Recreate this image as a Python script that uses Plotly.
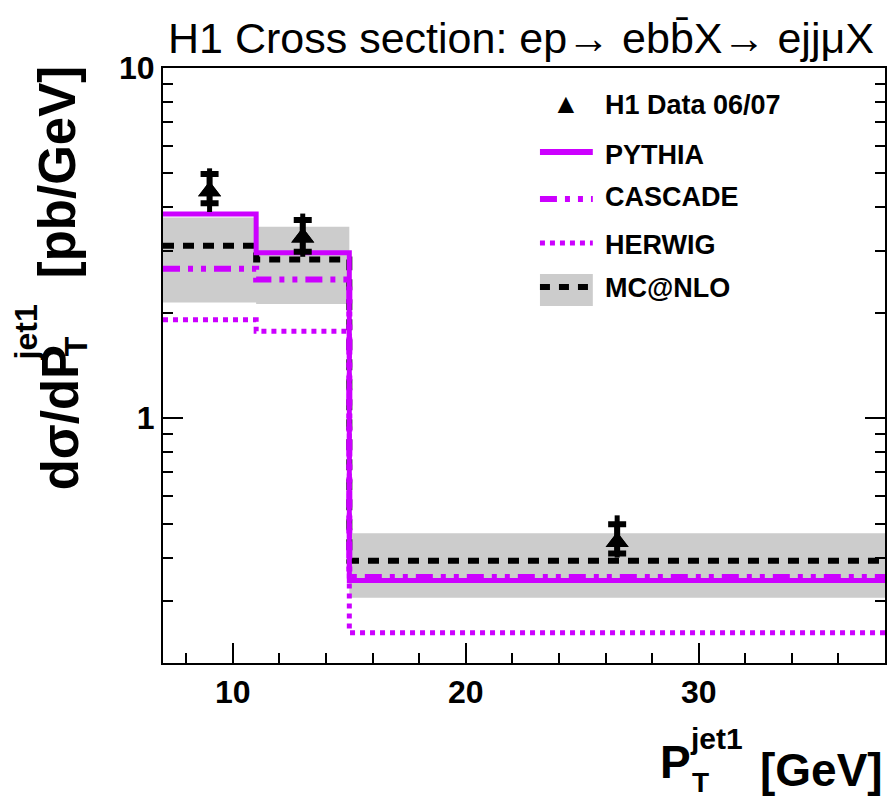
import plotly.graph_objects as go

# ---------------- data ----------------
bin_edges = [7, 11, 15, 38]
pythia = [3.83, 2.97, 0.344]
cascade = [2.67, 2.49, 0.352]
herwig = [1.91, 1.77, 0.244]
mcnlo = [3.11, 2.84, 0.392]
mcnlo_up = [3.74, 3.52, 0.469]
mcnlo_dn = [2.14, 2.12, 0.307]

data_x = [9, 13, 26.5]
data_y = [4.45, 3.28, 0.443]
data_tot_up = [5.17, 3.84, 0.528]
data_tot_dn = [3.88, 2.89, 0.400]
data_stat_up = [4.98, 3.68, 0.498]
data_stat_dn = [4.11, 2.99, 0.411]

x_ticks = [10, 20, 30]
x_minor = [8, 12, 14, 16, 18, 22, 24, 26, 28, 32, 34, 36, 38]
y_ticks = [1, 10]
y_tick_labels = ["1", "10"]
y_minor = [0.2, 0.3, 0.4, 0.5, 0.6, 0.7, 0.8, 0.9, 2, 3, 4, 5, 6, 7, 8, 9]

MAG = "#cc00ff"
GREY = "#cccccc"
FONT = "Liberation Sans, Arial, sans-serif"

# ---------------- geometry helpers (layout only) ----------------
W, H = 890, 800
L, R, T, B = 163, 887, 68, 663


def px(xp):
    return (xp - L) / (R - L)


def py(yp):
    return (B - yp) / (B - T)


def step(vals):
    return vals + [vals[-1]]


fig = go.Figure()

# MC@NLO uncertainty band
bx, by = [], []
for i in range(len(mcnlo)):
    lo, hi = bin_edges[i], bin_edges[i + 1]
    bx += [lo, hi, hi, lo, lo, None]
    by += [mcnlo_dn[i], mcnlo_dn[i], mcnlo_up[i], mcnlo_up[i], mcnlo_dn[i], None]
fig.add_trace(go.Scatter(x=bx, y=by, fill="toself", fillcolor=GREY,
                         line=dict(width=0), mode="lines", hoverinfo="skip",
                         showlegend=False))

fig.add_trace(go.Scatter(x=bin_edges, y=step(mcnlo), mode="lines", line_shape="hv",
                         line=dict(color="black", width=6, dash="11px,9px"),
                         name="MC@NLO", showlegend=False))
fig.add_trace(go.Scatter(x=bin_edges, y=step(herwig), mode="lines", line_shape="hv",
                         line=dict(color=MAG, width=5, dash="5px,5px"),
                         name="HERWIG", showlegend=False))
fig.add_trace(go.Scatter(x=bin_edges, y=step(cascade), mode="lines", line_shape="hv",
                         line=dict(color=MAG, width=6, dash="17px,8px,5px,8px,5px,8px"),
                         name="CASCADE", showlegend=False))
fig.add_trace(go.Scatter(x=bin_edges, y=step(pythia), mode="lines", line_shape="hv",
                         line=dict(color=MAG, width=5),
                         name="PYTHIA", showlegend=False))

# data: total errors
fig.add_trace(go.Scatter(
    x=data_x, y=data_y, mode="markers",
    marker=dict(symbol="triangle-up", size=20, color="black"),
    error_y=dict(type="data", symmetric=False,
                 array=[u - v for u, v in zip(data_tot_up, data_y)],
                 arrayminus=[v - d for v, d in zip(data_y, data_tot_dn)],
                 color="black", thickness=5, width=0),
    name="H1 Data 06/07", showlegend=False))
# data: stat errors (cross-bars)
fig.add_trace(go.Scatter(
    x=data_x, y=data_y, mode="markers",
    marker=dict(symbol="triangle-up", size=20, color="black"),
    error_y=dict(type="data", symmetric=False,
                 array=[u - v for u, v in zip(data_stat_up, data_y)],
                 arrayminus=[v - d for v, d in zip(data_y, data_stat_dn)],
                 color="black", thickness=6, width=9),
    showlegend=False, hoverinfo="skip"))

# ---------------- legend (manual) ----------------
shapes = []
ann = []
leg_x0, leg_x1 = px(541), px(594)
shapes.append(dict(type="rect", xref="paper", yref="paper", x0=leg_x0, x1=leg_x1,
                   y0=py(306), y1=py(274), fillcolor=GREY, line=dict(width=0)))
shapes.append(dict(type="line", xref="paper", yref="paper", x0=leg_x0, x1=leg_x1,
                   y0=py(287), y1=py(287), line=dict(color="black", width=6, dash="10px,9px")))
shapes.append(dict(type="line", xref="paper", yref="paper", x0=leg_x0, x1=leg_x1,
                   y0=py(152), y1=py(152), line=dict(color=MAG, width=6)))
shapes.append(dict(type="line", xref="paper", yref="paper", x0=leg_x0, x1=leg_x1,
                   y0=py(199), y1=py(199), line=dict(color=MAG, width=6, dash="17px,8px,5px,8px,5px,8px")))
shapes.append(dict(type="line", xref="paper", yref="paper", x0=leg_x0, x1=leg_x1,
                   y0=py(243), y1=py(243), line=dict(color=MAG, width=5, dash="5px,5px")))

ann.append(dict(text="▲", x=px(567), y=py(86), xref="paper", yref="paper",
                showarrow=False, font=dict(size=28, color="black", family=FONT)))
for label, yc in [("H1 Data 06/07", 105), ("PYTHIA", 155), ("CASCADE", 197),
                  ("HERWIG", 245), ("MC@NLO", 288)]:
    ann.append(dict(text=label, x=px(604), y=py(yc), xref="paper", yref="paper",
                    xanchor="left", yanchor="middle", showarrow=False,
                    font=dict(size=27, color="black", family=FONT, weight="bold")))

# title
ann.append(dict(text="H1 Cross section: ep\u2192 ebb\u0304X\u2192 ejj\u03bcX",
                x=px(522), y=py(38), xref="paper", yref="paper",
                xanchor="center", yanchor="middle", showarrow=False,
                font=dict(size=43, color="black", family=FONT)))

# x axis title pieces
ann.append(dict(text="P", x=px(659), y=py(762), xref="paper", yref="paper",
                xanchor="left", yanchor="middle", showarrow=False,
                font=dict(size=46, color="black", family=FONT, weight="bold")))
ann.append(dict(text="jet1", x=px(689), y=py(738), xref="paper", yref="paper",
                xanchor="left", yanchor="middle", showarrow=False,
                font=dict(size=30, color="black", family=FONT, weight="bold")))
ann.append(dict(text="T", x=px(691), y=py(782), xref="paper", yref="paper",
                xanchor="left", yanchor="middle", showarrow=False,
                font=dict(size=28, color="black", family=FONT, weight="bold")))
ann.append(dict(text="[GeV]", x=px(760), y=py(770), xref="paper", yref="paper",
                xanchor="left", yanchor="middle", showarrow=False,
                font=dict(size=46, color="black", family=FONT, weight="bold")))

# y axis title pieces (rotated)
ann.append(dict(text="[pb/GeV]", x=px(57), y=py(172), xref="paper", yref="paper",
                xanchor="center", yanchor="middle", textangle=-90, showarrow=False,
                font=dict(size=51, color="black", family=FONT, weight="bold")))
ann.append(dict(text="d\u03c3/dP", x=px(60), y=py(418), xref="paper", yref="paper",
                xanchor="center", yanchor="middle", textangle=-90, showarrow=False,
                font=dict(size=51, color="black", family=FONT, weight="bold")))
ann.append(dict(text="jet1", x=px(26), y=py(332), xref="paper", yref="paper",
                xanchor="center", yanchor="middle", textangle=-90, showarrow=False,
                font=dict(size=32, color="black", family=FONT, weight="bold")))
ann.append(dict(text="T", x=px(76), y=py(346), xref="paper", yref="paper",
                xanchor="center", yanchor="middle", textangle=-90, showarrow=False,
                font=dict(size=32, color="black", family=FONT, weight="bold")))

fig.update_layout(
    width=W, height=H,
    margin=dict(l=L, r=W - R, t=T, b=H - B, pad=0),
    plot_bgcolor="white", paper_bgcolor="white",
    shapes=shapes, annotations=ann,
    showlegend=False,
    xaxis=dict(range=[bin_edges[0], bin_edges[-1]], showgrid=False, zeroline=False,
               showline=True, linecolor="black", linewidth=2, mirror=True,
               ticks="inside", ticklen=20, tickwidth=2, tickcolor="black",
               tickvals=x_ticks, ticktext=[str(v) for v in x_ticks],
               tickfont=dict(size=32, family=FONT, color="black", weight="bold"),
               minor=dict(ticks="inside", ticklen=10, tickwidth=2, tickcolor="black",
                          tickmode="array", tickvals=x_minor, showgrid=False)),
    yaxis=dict(type="log", range=[-0.69897, 1], showgrid=False, zeroline=False,
               showline=True, linecolor="black", linewidth=2, mirror="ticks",
               ticks="inside", ticklen=20, tickwidth=2, tickcolor="black",
               tickvals=y_ticks, ticktext=y_tick_labels,
               tickfont=dict(size=32, family=FONT, color="black", weight="bold"),
               minor=dict(ticks="inside", ticklen=10, tickwidth=2, tickcolor="black",
                          tickmode="array", tickvals=y_minor, showgrid=False)),
)

fig.write_html("out.html")
